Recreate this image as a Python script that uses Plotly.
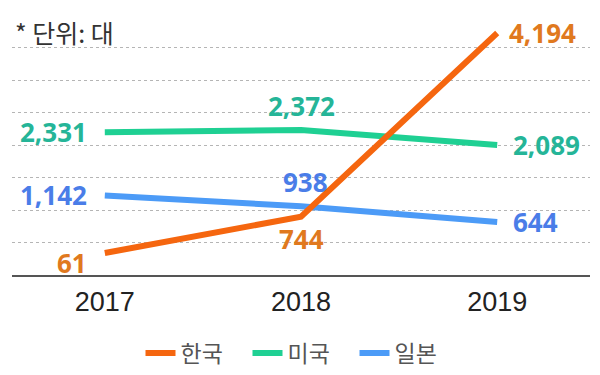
import plotly.graph_objects as go

years = [2017, 2018, 2019]
year_labels = ["2017", "2018", "2019"]
series_names = ["한국", "미국", "일본"]
korea = [61, 744, 4194]
usa = [2331, 2372, 2089]
japan = [1142, 938, 644]

line_colors = {"한국": "#F5660F", "미국": "#1FD093", "일본": "#4C9BF7"}
text_colors = {"한국": "#E0791E", "미국": "#25B598", "일본": "#4A7DE8"}
values = {"한국": korea, "미국": usa, "일본": japan}

# label placement per series per point: (xanchor, yanchor, xshift, yshift)
label_pos = {
    "한국": [("right", "middle", -16, -10), ("center", "middle", 0, -22), ("left", "middle", 10, 0)],
    "미국": [("right", "middle", -16, 0), ("center", "middle", 0, 24), ("left", "middle", 14, 0)],
    "일본": [("right", "middle", -16, 0), ("center", "middle", 4, 24), ("left", "middle", 14, 0)],
}

fig = go.Figure()
draw_order = ["미국", "일본", "한국"]
for name in draw_order:
    fig.add_trace(go.Scatter(
        x=years, y=values[name], mode="lines", name=name,
        line=dict(color=line_colors[name], width=6),
        legendrank={"한국": 1, "미국": 2, "일본": 3}[name],
        hoverinfo="skip",
    ))

annotations = []
for name in series_names:
    for i, (x, v) in enumerate(zip(years, values[name])):
        xa, ya, xs, ys = label_pos[name][i]
        annotations.append(dict(
            x=x, y=v, xref="x", yref="y", text=f"{v:,}", showarrow=False,
            xanchor=xa, yanchor=ya, xshift=xs, yshift=ys,
            font=dict(family="Noto Sans", size=26, color=text_colors[name], weight="bold"),
        ))
annotations.append(dict(
    x=0, y=1, xref="paper", yref="paper", text="* 단위: 대", showarrow=False,
    xanchor="left", yanchor="middle", xshift=1, yshift=-17,
    font=dict(family="Noto Sans CJK KR", size=25, color="#333333"),
))

y0, y1 = -352, 4532
fig.update_layout(
    width=592, height=367,
    margin=dict(l=4, r=10, t=7, b=100, autoexpand=False),
    paper_bgcolor="white", plot_bgcolor="white",
    showlegend=True,
    legend=dict(orientation="h", x=0.5, xanchor="center", y=-0.30, yanchor="middle",
                font=dict(family="Noto Sans CJK KR", size=23, color="#555555"),
                itemwidth=30, entrywidth=62, traceorder="normal"),
    annotations=annotations,
    xaxis=dict(range=[2016.527, 2019.473], tickvals=years, ticktext=year_labels,
               showgrid=False, zeroline=False, showline=True, linecolor="#555555", linewidth=1.5,
               ticks="", ticklabelstandoff=2, automargin=False,
               tickfont=dict(family="Liberation Sans", size=27, color="#222222")),
    yaxis=dict(range=[y0, y1], tick0=y0, dtick=(y1 - y0) / 8, showticklabels=False,
               showgrid=True, gridcolor="#B5B5B5", griddash="dot", gridwidth=1.2,
               zeroline=False, showline=False, automargin=False),
)

fig.write_html("out.html")
